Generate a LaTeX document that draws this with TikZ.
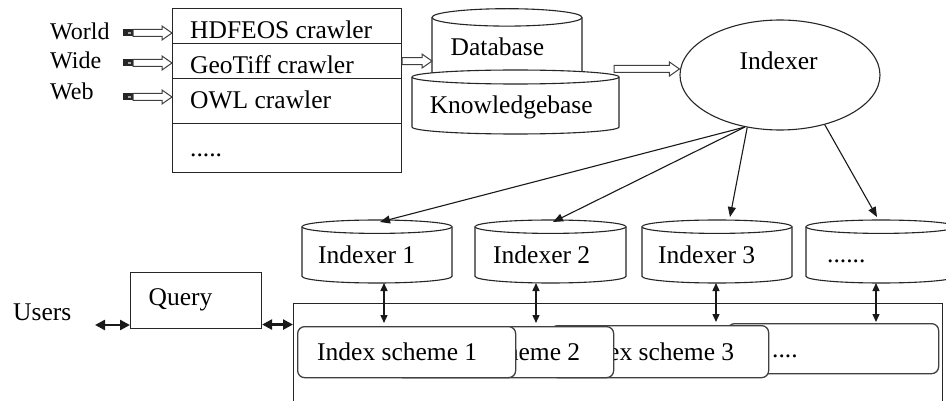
\documentclass[tikz,border=0pt]{standalone}
\usepackage{fontspec}
\setmainfont{Liberation Serif}
\usetikzlibrary{arrows.meta,calc,shapes.geometric}

\tikzset{
  ln/.style={draw=black!85, line width=1.1pt},
  lbl/.style={inner sep=0, anchor=base west, font=\fontsize{25.5}{30}\selectfont},
  small/.style={font=\fontsize{24}{28}\selectfont},
  cell/.style={ln, fill=white, inner sep=0, anchor=north west, minimum width=229pt},
  drumline/.style={ln, fill=white},
  scheme/.style={draw=black!75, line width=1.3pt, fill=white, rounded corners=7pt,
                 inner sep=0, anchor=north west},
  hollow/.style={draw=black!75, line width=1pt, fill=white},
  feed/.style={draw=black!90, line width=1.1pt, -{Triangle[length=10pt,width=8pt]}},
  biarrow/.style={draw=black!90, line width=1.3pt,
                  {Triangle[length=8pt,width=7pt]}-{Triangle[length=8pt,width=7pt]}},
  userarrow/.style={draw=black!90, line width=2.4pt,
                  {Triangle[length=10pt,width=10pt]}-{Triangle[length=10pt,width=10pt]}},
}

% open block arrow from #1 to #2 (horizontal)
\newcommand\hollowarrow[2]{%
  \draw[hollow] let \p1=(#1), \p2=(#2) in
    (\x1,\y1+3.5pt) -- (\x2-10pt,\y1+3.5pt) -- (\x2-10pt,\y1+7pt) -- (\x2,\y1)
    -- (\x2-10pt,\y1-7pt) -- (\x2-10pt,\y1-3.5pt) -- (\x1,\y1-3.5pt) -- cycle;}

% same arrow with a small black tail block
\newcommand\tailarrow[2]{%
  \fill[black!85] let \p1=(#1) in (\x1,\y1+3.5pt) rectangle (\x1+10pt,\y1-3.5pt);
  \fill[black!35] let \p1=(#1) in (\x1+5pt,\y1+1pt) rectangle (\x1+8pt,\y1-1pt);
  \hollowarrow{$(#1)+(10pt,0)$}{#2}}

% drum: name, left, right, top, bottom, rim half-height (y measured downwards)
\newcommand\drum[6]{%
  \pgfmathsetmacro\drL{#2}\pgfmathsetmacro\drR{#3}%
  \pgfmathsetmacro\drRx{((#3)-(#2))/2}%
  \pgfmathsetmacro\drTop{-(#4)-(#6)}%
  \pgfmathsetmacro\drBot{-(#5)+(#6)}%
  \filldraw[drumline] (\drL,\drTop) -- (\drL,\drBot)
    arc[start angle=180,end angle=360,x radius=\drRx pt,y radius=#6pt]
    -- (\drR,\drTop)
    arc[start angle=0,end angle=180,x radius=\drRx pt,y radius=#6pt] -- cycle;
  \draw[drumline] (\drL,\drTop)
    arc[start angle=180,end angle=360,x radius=\drRx pt,y radius=#6pt];
  \node[inner sep=0,outer sep=0,minimum width={(#3)-(#2)},minimum height={(#5)-(#4)}]
    (#1) at ({((#2)+(#3))/2},{-((#4)+(#5))/2}) {};}

\begin{document}
\begin{tikzpicture}[x=1pt,y=1pt]
\useasboundingbox (0,0) rectangle (946,-401);
\fill[white] (0,0) rectangle (946,-401);
\clip (0,0) rectangle (946,-401);

% crawler table
\node[cell, minimum height=35pt] (r1) at (172,-8) {};
\node[cell, minimum height=35pt] (r2) at (172,-43) {};
\node[cell, minimum height=45pt] (r3) at (172,-78) {};
\node[cell, minimum height=49pt] (r4) at (172,-123) {};
\node[lbl] (t1) at (190,-39) {HDFEOS crawler};
\node[lbl] (t2) at (190,-74) {GeoTiff crawler};
\node[lbl] (t3) at (190,-109) {OWL crawler};
\node[lbl] (t4) at (190,-157) {.....};

% sources
\node[lbl,small] (world) at (50,-40) {World};
\node[lbl,small] (wide) at (50,-69) {Wide};
\node[lbl,small] (web) at (50,-100) {Web};
\coordinate (a1) at (123,-33);
\coordinate (a2) at (123,-63);
\coordinate (a3) at (123,-97);
\tailarrow{a1}{a1 -| r1.west}
\tailarrow{a2}{a2 -| r2.west}
\tailarrow{a3}{a3 -| r3.west}

% stores
\drum{db}{432}{582}{8.7}{100}{8.7}
\node[lbl] (dbt) at (450.5,-55.7) {Database};
\drum{kb}{412}{619}{70}{134}{7}
\node[lbl] (kbt) at (429.6,-114) {Knowledgebase};
\hollowarrow{r2.east}{r2.east -| db.west}

% indexer
\node[ln, ellipse, minimum width=200pt, minimum height=110pt, inner sep=0] (idx) at (780,-75) {};
\node[lbl] (idxt) at (739.5,-69.6) {Indexer};
\coordinate (kbo) at (614,-69);
\hollowarrow{kbo}{kbo -| idx.west}

% partial indexers
\drum{i1}{302}{452}{220}{283}{6.7}
\drum{i2}{475}{626}{220}{283}{6.7}
\drum{i3}{642}{792}{220}{283}{6.7}
\drum{i4}{806}{956}{220}{283}{6.7}
\node[lbl] (i1t) at (318,-263) {Indexer 1};
\node[lbl] (i2t) at (493,-263) {Indexer 2};
\node[lbl] (i3t) at (658,-263) {Indexer 3};
\node[lbl] (i4t) at (827,-262) {......};

\draw[feed] (idx.-124) -- ([shift={(3pt,-2pt)}]i1.north);
\draw[feed] (idx.-124) -- ([shift={(2.5pt,-2pt)}]i2.north);
\draw[feed] (idx.-122) -- ([shift={(13pt,3pt)}]i3.north);
\draw[feed] (idx.-48) -- ([shift={(-4pt,3pt)}]i4.north);

% query panel
\node[ln, inner sep=0, anchor=north west, minimum width=649pt, minimum height=140pt] (panel) at (293,-303) {};

\node[scheme, minimum width=211pt, minimum height=50pt] (s4) at (727,-323) {};
\node[lbl] (s4t) at (772,-357) {....};
\node[scheme, minimum width=218pt, minimum height=52pt] (s3) at (550,-325) {};
\node[lbl] (s3t) at (574,-360) {Index scheme 3};
\node[scheme, minimum width=218pt, minimum height=51pt] (s2) at (395,-326) {};
\node[lbl] (s2t) at (420,-360) {Index scheme 2};
\node[scheme, minimum width=218pt, minimum height=51pt] (s1) at (297,-326) {};
\node[lbl] (s1t) at (317,-360) {Index scheme 1};

\draw[biarrow, shorten >=3pt] ([xshift=7pt]i1.south) -- ([xshift=7pt]i1.south |- s1.north);
\draw[biarrow, shorten >=3pt] ([xshift=-14.5pt]i2.south) -- ([xshift=-14.5pt]i2.south |- s2.north);
\draw[biarrow, shorten >=3pt] ([xshift=-1pt]i3.south) -- ([xshift=-1pt]i3.south |- s3.north);
\draw[biarrow, shorten >=1pt] ([xshift=-5pt]i4.south) -- ([xshift=-5pt]i4.south |- s4.north);

% users and query
\node[ln, inner sep=0, anchor=north west, minimum width=131pt, minimum height=56pt] (query) at (130,-272) {};
\node[lbl] (queryt) at (148.5,-305) {Query};
\node[lbl] (users) at (13,-320) {Users};
\coordinate (ua) at (95,-325);
\draw[userarrow] (ua) -- (ua -| query.west);
\draw[userarrow] ([yshift=-24pt]query.east) -- ([yshift=-24pt]query.east -| panel.west);
\end{tikzpicture}
\end{document}
